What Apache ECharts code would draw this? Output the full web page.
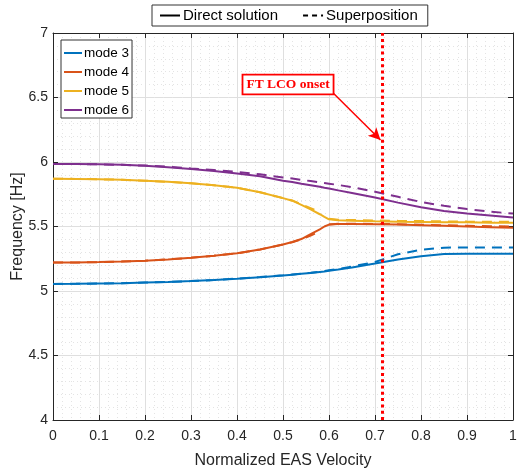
<!DOCTYPE html>
<html>
<head>
<meta charset="utf-8">
<script src="https://cdn.jsdelivr.net/npm/echarts@6/dist/echarts.min.js"></script>
<style>html,body{margin:0;padding:0;background:#fff}#c{width:518px;height:473px}</style>
</head>
<body>
<div id="c"></div>
<script>
// ---- data ----
const velocity = [0,0.05,0.1,0.15,0.2,0.25,0.3,0.35,0.4,0.45,0.5,0.52,0.54,0.56,0.58,0.59,0.6,0.62,0.65,0.7,0.75,0.8,0.85,0.9,0.95,1.0];
const mode3Direct = [5.055,5.056,5.058,5.060,5.065,5.070,5.077,5.085,5.095,5.107,5.120,5.126,5.133,5.140,5.148,5.152,5.157,5.167,5.183,5.213,5.245,5.270,5.287,5.288,5.288,5.288];
const mode3Super  = [5.055,5.056,5.058,5.060,5.065,5.070,5.077,5.085,5.096,5.108,5.122,5.128,5.135,5.142,5.150,5.155,5.160,5.170,5.190,5.225,5.285,5.320,5.336,5.338,5.338,5.338];
const mode4Direct = [5.220,5.221,5.224,5.228,5.235,5.245,5.258,5.273,5.292,5.322,5.360,5.380,5.403,5.440,5.478,5.500,5.515,5.520,5.520,5.518,5.515,5.510,5.505,5.500,5.495,5.490];
const mode4Super  = [5.220,5.221,5.224,5.228,5.235,5.245,5.258,5.273,5.292,5.322,5.360,5.378,5.400,5.430,5.462,null,5.515,5.522,5.522,5.520,5.518,5.514,5.510,5.506,5.502,5.500];
const mode5Direct = [5.870,5.869,5.866,5.862,5.855,5.846,5.835,5.820,5.800,5.765,5.720,5.700,5.667,5.633,5.595,5.575,5.556,5.548,5.545,5.540,5.537,5.535,5.533,5.532,5.530,5.530];
const mode5Super  = [5.870,5.869,5.866,5.862,5.855,5.846,5.835,5.820,5.800,5.765,5.720,5.702,5.672,5.642,5.612,null,5.560,5.553,5.550,5.547,5.544,5.542,5.540,5.538,5.537,5.536];
const mode6Direct = [5.985,5.984,5.982,5.978,5.970,5.960,5.945,5.930,5.910,5.890,5.855,5.845,5.832,5.820,5.808,5.800,5.795,5.780,5.760,5.725,5.685,5.650,5.620,5.600,5.585,5.570];
const mode6Super  = [5.985,5.984,5.982,5.978,5.972,5.963,5.950,5.938,5.923,5.905,5.880,5.872,5.862,5.852,5.842,5.837,5.832,5.822,5.805,5.770,5.730,5.690,5.660,5.635,5.615,5.600];
const modeNames = ['mode 3','mode 4','mode 5','mode 6'];
const modeColors = ['#0072BD','#D95319','#EDB120','#7E2F8E'];
const xTicks = {min:0, max:1, interval:0.1};
const yTicks = {min:4, max:7, interval:0.5};
const lcoOnset = 0.715;
const annotationText = 'FT LCO onset';
const arrowFrom = [0.609, 6.535];
const arrowTo = [0.712, 6.17];
const textAnchor = [0.41, 6.685];

function pairs(ys){ return velocity.map((x,i)=>[x, ys[i]]); }
const directSets = [mode3Direct, mode4Direct, mode5Direct, mode6Direct];
const superSets = [mode3Super, mode4Super, mode5Super, mode6Super];

const chart = echarts.init(document.getElementById('c'));
const axisColor = '#262626';
const font = 'Liberation Sans, Arial, Helvetica, sans-serif';

const series = [];
directSets.forEach((d,i)=>{
  series.push({name:modeNames[i], type:'line', data:pairs(d), symbol:'none', color:modeColors[i],
    lineStyle:{width:2, color:modeColors[i]}, z:3, animation:false});
});
superSets.forEach((d,i)=>{
  series.push({name:modeNames[i]+' sup', type:'line', data:pairs(d), symbol:'none', color:modeColors[i],
    lineStyle:{width:2, color:modeColors[i], type:[10,7]}, z:3, animation:false});
});
series.push({name:'Direct solution', type:'line', data:[], symbol:'none', color:'#000', lineStyle:{width:1.5,color:'#000'}});
series.push({name:'Superposition', type:'line', data:[], symbol:'none', color:'#000', lineStyle:{width:1.5,color:'#000', type:[5,4]}});
series.push({name:'markers', type:'line', data:[], symbol:'none', z:10, animation:false,
  markLine:{silent:true, animation:false, symbol:'none', label:{show:false},
    data:[
      [{coord:[lcoOnset, yTicks.min], lineStyle:{color:'#ff0000', width:3, type:[3,3.3]}}, {coord:[lcoOnset, yTicks.max]}],
      [{coord:arrowFrom, symbol:'none', lineStyle:{color:'#ff0000', width:1.5, type:'solid'}}, {coord:arrowTo, symbol:'arrow', symbolSize:[9,12]}]
    ]}
});

const option = {
  animation:false,
  backgroundColor:'#fff',
  grid:{left:53, right:5, top:33, bottom:53, containLabel:false, outerBoundsMode:'none'},
  legend:[
    {data:['Direct solution','Superposition'], left:152, top:5, orient:'horizontal',
     itemWidth:20, itemHeight:10, itemGap:24, padding:[3,10,3,7],
     borderColor:'#333', borderWidth:1, backgroundColor:'#fff', itemStyle:{opacity:0},
     textStyle:{fontFamily:font, fontSize:15, color:'#000', padding:[0,0,0,-2]}, selectedMode:false},
    {data:modeNames, left:61, top:40, orient:'vertical',
     itemWidth:18, itemHeight:10, itemGap:5, padding:[6,3,1,2],
     borderColor:'#333', borderWidth:1, backgroundColor:'#fff', itemStyle:{opacity:0},
     textStyle:{fontFamily:font, fontSize:13.5, color:'#000', padding:[0,0,0,-3]}, selectedMode:false}
  ],
  xAxis:[
    {type:'value', min:xTicks.min, max:xTicks.max, interval:xTicks.interval,
     name:'Normalized EAS Velocity', nameLocation:'middle', nameGap:33, nameMoveOverlap:false,
     nameTextStyle:{fontFamily:font, fontSize:16, color:axisColor},
     axisLine:{show:true, onZero:false, lineStyle:{color:axisColor}},
     axisTick:{show:true, inside:true, length:5, lineStyle:{color:axisColor}},
     axisLabel:{fontFamily:font, fontSize:14, color:axisColor, margin:9,
       formatter:v=>{const r=Math.round(v*10)/10; return (r===0||r===1)?String(r):r.toFixed(1);}},
     splitLine:{show:true, lineStyle:{color:'#dfdfdf', width:1}},
     minorTick:{show:false, splitNumber:5},
     minorSplitLine:{show:true, lineStyle:{color:'#e4e4e4', type:[1,3], width:1}}},
    {type:'value', position:'top', min:xTicks.min, max:xTicks.max, interval:xTicks.interval,
     axisLine:{show:true, onZero:false, lineStyle:{color:axisColor}},
     axisTick:{show:true, inside:true, length:5, lineStyle:{color:axisColor}},
     axisLabel:{show:false}, splitLine:{show:false}}
  ],
  yAxis:[
    {type:'value', min:yTicks.min, max:yTicks.max, interval:yTicks.interval,
     name:'Frequency [Hz]', nameLocation:'middle', nameGap:27, nameMoveOverlap:false,
     nameTextStyle:{fontFamily:font, fontSize:16, color:axisColor},
     axisLine:{show:true, onZero:false, lineStyle:{color:axisColor}},
     axisTick:{show:true, inside:true, length:5, lineStyle:{color:axisColor}},
     axisLabel:{fontFamily:font, fontSize:14, color:axisColor, margin:5, formatter:v=>String(v)},
     splitLine:{show:true, lineStyle:{color:'#dfdfdf', width:1}},
     minorTick:{show:false, splitNumber:5},
     minorSplitLine:{show:true, lineStyle:{color:'#e4e4e4', type:[1,3], width:1}}},
    {type:'value', position:'right', min:yTicks.min, max:yTicks.max, interval:yTicks.interval,
     axisLine:{show:true, onZero:false, lineStyle:{color:axisColor}},
     axisTick:{show:true, inside:true, length:5, lineStyle:{color:axisColor}},
     axisLabel:{show:false}, splitLine:{show:false}}
  ],
  series:series
};
chart.setOption(option);

const p = chart.convertToPixel({xAxisIndex:0, yAxisIndex:0}, textAnchor);
chart.setOption({
  graphic:[{type:'text', left:p[0], top:p[1], z:20,
    style:{text:annotationText, fill:'#ff0000', font:'bold 13.5px "Liberation Serif", "Times New Roman", serif',
      backgroundColor:'#fff', borderColor:'#ff0000', borderWidth:1.8, padding:[2,3,2,3]}}]
});
</script>
</body>
</html>
